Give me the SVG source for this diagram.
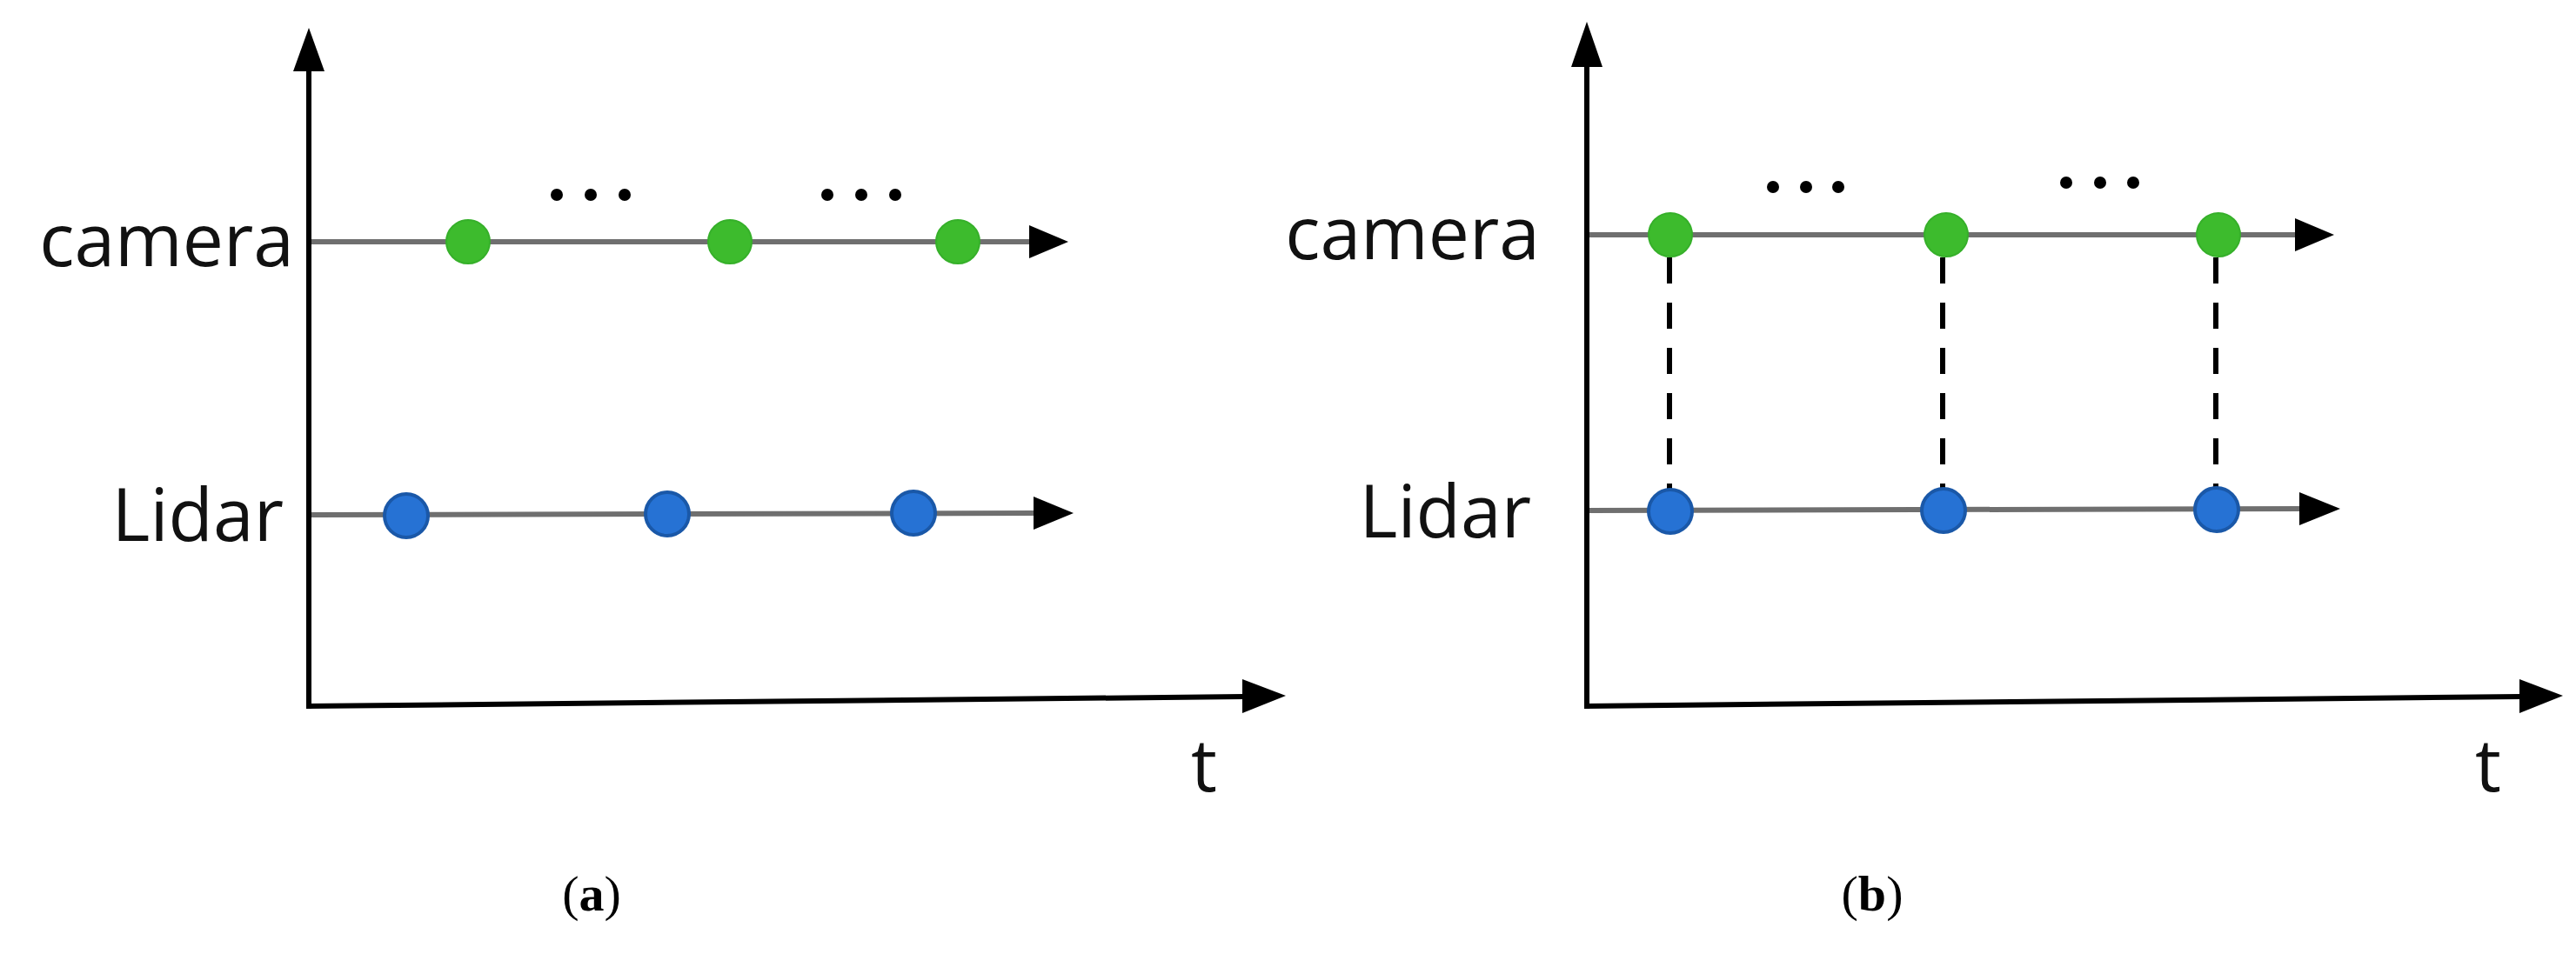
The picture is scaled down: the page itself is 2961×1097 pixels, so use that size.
<svg xmlns="http://www.w3.org/2000/svg" width="2961" height="1097" viewBox="0 0 2961 1097">
<style>
.ax{stroke:#000;stroke-width:6;fill:none}
.row{stroke:#6f6f6f;stroke-width:6;fill:none}
.g{fill:#3dbb2d;stroke:#36b02a;stroke-width:2}
.b{fill:#2672d4;stroke:#1a58a8;stroke-width:4}
.dash{stroke:#000;stroke-width:6;stroke-dasharray:30,22;fill:none}
.lbl{font-family:"Open Sans","Noto Sans",sans-serif;font-size:84px;fill:#111}
.cap{font-family:"Liberation Serif",serif;font-size:58px;fill:#000}
.bold{font-weight:bold}
</style>
<defs>
<marker id="ah" markerWidth="10" markerHeight="8" refX="0" refY="4" orient="auto" markerUnits="userSpaceOnUse" viewBox="0 0 10 8"><path d="M0,0 L10,4 L0,8 z" fill="#000"/></marker>
</defs>
<g id="panel-a">
<g id="a-axes">
<line class="ax" x1="355" y1="815" x2="355" y2="80"/><path d="M337,82 L355,32 L373,82 z"/>
<line class="ax" x1="352" y1="812" x2="1430" y2="801"/><path d="M1428,781 L1478,800 L1428,820 z"/>
</g>
<g id="a-rows">
<line class="row" x1="358" y1="278" x2="1185" y2="278"/><path d="M1183,259 L1228,278 L1183,297 z"/>
<line class="row" x1="358" y1="592" x2="1190" y2="590"/><path d="M1188,571 L1234,590 L1188,609 z"/>
</g>
<text class="lbl" x="338" y="306" text-anchor="end">camera</text>
<text class="lbl" x="326" y="622" text-anchor="end">Lidar</text>
<g id="a-camera"><circle class="g" cx="538" cy="278" r="25"/><circle class="g" cx="839" cy="278" r="25"/><circle class="g" cx="1101" cy="278" r="25"/></g>
<g id="a-lidar"><circle class="b" cx="467" cy="593" r="25"/><circle class="b" cx="767" cy="591" r="25"/><circle class="b" cx="1050" cy="590" r="25"/></g>
<g id="a-ellipsis" fill="#000"><circle cx="640" cy="224" r="7"/><circle cx="679" cy="224" r="7"/><circle cx="718" cy="224" r="7"/><circle cx="951" cy="224" r="7"/><circle cx="990" cy="224" r="7"/><circle cx="1029" cy="224" r="7"/></g>
<text class="lbl" x="1384" y="910" text-anchor="middle">t</text>
<text class="cap" x="680" y="1047" text-anchor="middle">(<tspan class="bold">a</tspan>)</text>
</g>
<g id="panel-b">
<g id="b-axes">
<line class="ax" x1="1824" y1="815" x2="1824" y2="75"/><path d="M1806,77 L1824,25 L1842,77 z"/>
<line class="ax" x1="1821" y1="812" x2="2898" y2="801"/><path d="M2896,781 L2946,800 L2896,820 z"/>
</g>
<g id="b-rows">
<line class="row" x1="1827" y1="270" x2="2640" y2="270"/><path d="M2638,251 L2683,270 L2638,289 z"/>
<line class="row" x1="1827" y1="587" x2="2645" y2="585"/><path d="M2643,566 L2690,585 L2643,604 z"/>
</g>
<text class="lbl" x="1770" y="298" text-anchor="end">camera</text>
<text class="lbl" x="1760" y="618" text-anchor="end">Lidar</text>
<g id="b-sync">
<line class="dash" x1="1919" y1="296" x2="1919" y2="562"/>
<line class="dash" x1="2233" y1="296" x2="2233" y2="562"/>
<line class="dash" x1="2547" y1="296" x2="2547" y2="562"/>
</g>
<g id="b-camera"><circle class="g" cx="1920" cy="270" r="25"/><circle class="g" cx="2237" cy="270" r="25"/><circle class="g" cx="2550" cy="270" r="25"/></g>
<g id="b-lidar"><circle class="b" cx="1920" cy="588" r="25"/><circle class="b" cx="2234" cy="587" r="25"/><circle class="b" cx="2548" cy="586" r="25"/></g>
<g id="b-ellipsis" fill="#000"><circle cx="2038" cy="215" r="7"/><circle cx="2076" cy="215" r="7"/><circle cx="2113" cy="215" r="7"/><circle cx="2375" cy="210" r="7"/><circle cx="2414" cy="210" r="7"/><circle cx="2452" cy="210" r="7"/></g>
<text class="lbl" x="2860" y="910" text-anchor="middle">t</text>
<text class="cap" x="2152" y="1047" text-anchor="middle">(<tspan class="bold">b</tspan>)</text>
</g>
</svg>
